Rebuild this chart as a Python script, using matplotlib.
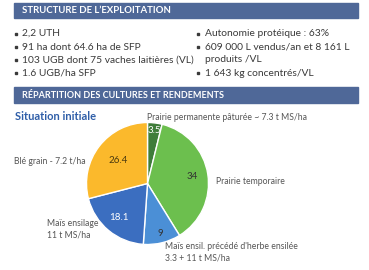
import numpy as np
import matplotlib.pyplot as plt
from matplotlib.patches import Rectangle

plt.rcParams['font.family'] = ['Lato', 'DejaVu Sans']

# header texts and bullets
header1 = "STRUCTURE DE L\u2019EXPLOITATION"
header2 = "RÉPARTITION DES CULTURES ET RENDEMENTS"
left_bullets = ["2,2 UTH",
                "91 ha dont 64.6 ha de SFP",
                "103 UGB dont 75 vaches laitières (VL)",
                "1.6 UGB/ha SFP"]
right_bullets = ["Autonomie protéique : 63%",
                 "609 000 L vendus/an et 8 161 L",
                 "produits /VL",
                 "1 643 kg concentrés/VL"]
right_has_dot = [True, True, False, True]

# pie data (ha)
cultures = ["Prairie permanente pâturée ~ 7.3 t MS/ha",
            "Prairie temporaire",
            "Maïs ensil. précédé d'herbe ensilée\n3.3 + 11 t MS/ha",
            "Maïs ensilage\n11 t MS/ha",
            "Blé grain - 7.2 t/ha"]
surfaces = [3.5, 34, 9, 18.1, 26.4]
value_labels = ["3.5", "34", "9", "18.1", "26.4"]
colors = ["#3f7d3a", "#6cbf4e", "#4b8fd6", "#3b6ec0", "#fbb92c"]

W, H = 369, 270
fig = plt.figure(figsize=(W / 100, H / 100), dpi=100)
bg = fig.add_axes([0, 0, 1, 1])
bg.set_xlim(0, W)
bg.set_ylim(H, 0)
bg.axis('off')

hdr_col = "#4f6898"
txt_col = "#3a3a3a"
bg.add_patch(Rectangle((14, 3), 344, 15, color=hdr_col))
bg.text(22, 10.8, header1, color='white', fontsize=6.9, fontweight='bold', va='center')
bg.add_patch(Rectangle((14, 87), 344, 16, color=hdr_col))
bg.text(22, 95.3, header2, color='white', fontsize=6.5, fontweight='bold', va='center')

ys = [33.5, 47, 60, 73]
for y, t in zip(ys, left_bullets):
    bg.plot(16, y, 's', ms=1.8, color=txt_col)
    bg.text(22, y, t, color=txt_col, fontsize=7.4, va='center')
for y, t, d in zip(ys, right_bullets, right_has_dot):
    if d:
        bg.plot(198, y, 's', ms=1.8, color=txt_col)
    bg.text(205, y, t, color=txt_col, fontsize=7.4, va='center')

bg.text(15, 116, "Situation initiale", color="#2f5ea8", fontsize=8, fontweight='bold', va='center')

# pie
cx, cy, r = 147.5, 183.5, 61
pie_ax = fig.add_axes([(cx - r) / W, 1 - (cy + r) / H, 2 * r / W, 2 * r / H])
wedges, _ = pie_ax.pie(surfaces, colors=colors, startangle=90, counterclock=False,
                       wedgeprops=dict(edgecolor='white', linewidth=1))
pie_ax.set_xlim(-1, 1)
pie_ax.set_ylim(-1, 1)

dists = [0.88, 0.75, 0.85, 0.72, 0.61]
val_cols = ["white", "#333333", "#333333", "white", "#4a3a10"]
for w, lab, dd, vc in zip(wedges, value_labels, dists, val_cols):
    ang = np.deg2rad((w.theta1 + w.theta2) / 2)
    pie_ax.text(dd * np.cos(ang), dd * np.sin(ang), lab, ha='center', va='center',
                fontsize=7, color=vc)

lab_col = "#555555"
bg.text(147, 118, cultures[0], fontsize=6.2, color=lab_col, va='center')
bg.text(216, 181, cultures[1], fontsize=6.2, color=lab_col, va='center')
bg.text(165, 252, cultures[2], fontsize=6.2, color=lab_col, va='center', linespacing=1.35)
bg.text(47, 229, cultures[3], fontsize=6.2, color=lab_col, va='center', linespacing=1.35)
bg.text(86, 162, cultures[4], fontsize=6.2, color=lab_col, va='center', ha='right')

fig.savefig("out.png", dpi=100)
